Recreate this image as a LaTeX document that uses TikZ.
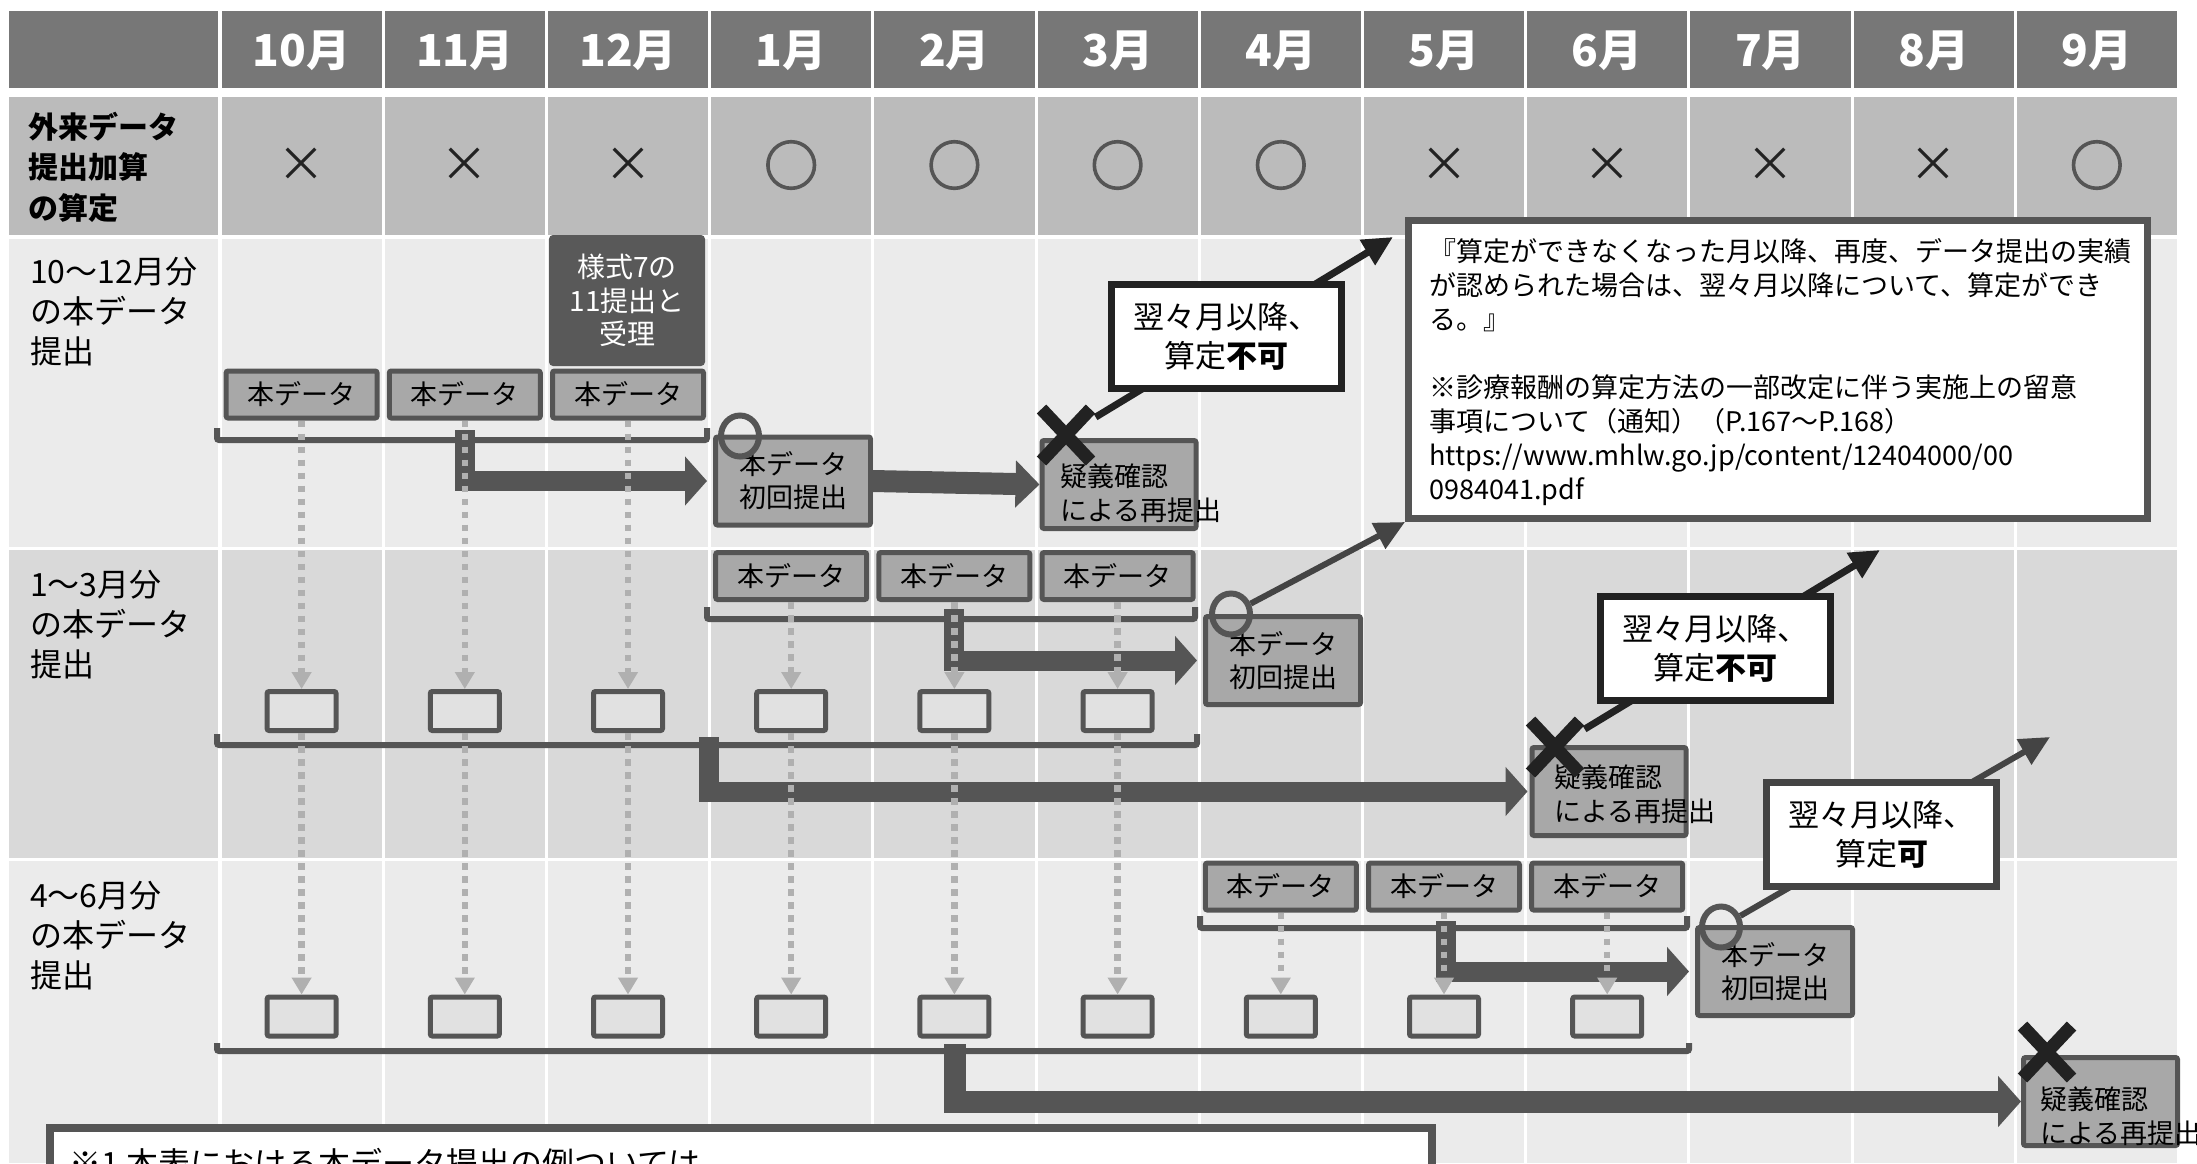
\documentclass[tikz,border=0pt]{standalone}
\usepackage{fontspec}
\setmainfont{Noto Sans CJK JP}
\newfontfamily\marufont[FakeBold=3]{Noto Sans CJK JP}
\usetikzlibrary{arrows.meta,shapes.misc,shapes.geometric}
\newcommand{\myfs}[2]{\fontsize{#1}{#2}\selectfont}
\definecolor{hdrgray}{HTML}{777777}
\definecolor{rowmid}{HTML}{BBBBBB}
\definecolor{rowlight}{HTML}{EBEBEB}
\definecolor{rowdark}{HTML}{D9D9D9}
\definecolor{dkgray}{HTML}{555555}
\definecolor{boxgray}{HTML}{A8A8A8}
\definecolor{sqgray}{HTML}{E1E1E1}
\definecolor{dashgray}{HTML}{B0B0B0}
\definecolor{nearblack}{HTML}{222222}
\definecolor{formgray}{HTML}{595959}
\definecolor{leadgray}{HTML}{444444}
\tikzset{
  databox/.style={draw=dkgray, line width=5pt, fill=boxgray, rounded corners=2pt,
    minimum width=151pt, minimum height=47pt, inner sep=0pt, font=\myfs{27}{30}},
  firstbox/.style={draw=dkgray, line width=5pt, fill=boxgray, rounded corners=2pt,
    minimum width=155pt, minimum height=88pt, inner sep=0pt, align=center, font=\myfs{27}{33}},
  querybox/.style={draw=dkgray, line width=5pt, fill=boxgray, rounded corners=2pt,
    minimum width=154pt, minimum height=88pt, inner sep=0pt},
  querytext/.style={anchor=west, align=left, inner sep=0pt, font=\myfs{27}{34}},
  sqbox/.style={draw=dkgray, line width=5pt, fill=sqgray, rounded corners=2pt,
    minimum width=69pt, minimum height=39pt, inner sep=0pt},
  callout/.style={draw=nearblack, line width=7pt, fill=white, minimum width=230pt,
    minimum height=104pt, align=center, inner sep=0pt, font=\myfs{31}{39}},
  bracketline/.style={draw=dkgray, line width=6pt, rounded corners=2pt},
  fatarrow/.style={draw=dkgray, line width=20pt, -{Triangle[length=22pt,width=48pt]}},
  dashlink/.style={draw=dashgray, line width=6.5pt, dash pattern=on 6.5pt off 6.5pt,
    -{Triangle[length=17pt,width=19pt]}},
  okring/.style={draw=dkgray, line width=6pt, ellipse, minimum width=38pt,
    minimum height=41pt, inner sep=0pt},
  ngcross/.style={cross out, draw=nearblack, line width=13pt, minimum width=36pt,
    minimum height=39pt, inner sep=0pt},
  leader/.style={draw=nearblack, line width=7pt, -{Triangle[length=30pt,width=28pt]}},
  rowlabel/.style={anchor=west, align=left, inner sep=0pt, font=\myfs{32}{40}},
  monthtext/.style={text=white, inner sep=0pt, font=\bfseries\myfs{44}{44}},
  batsu/.style={text=nearblack, inner sep=0pt, font=\myfs{48}{48}},
  maru/.style={text=dkgray, inner sep=0pt, font=\marufont\myfs{54}{54}},
}
\begin{document}
\begin{tikzpicture}[x=1pt,y=-1pt]
\useasboundingbox (0,0) rectangle (2197,1163);
\clip (0,0) rectangle (2197,1163);
\fill[white] (0,0) rectangle (2197,1163);
% ---- table cells
\fill[hdrgray] (8.5,11) rectangle (218,88);
\fill[rowmid] (8.5,97) rectangle (218,235.3);
\fill[rowlight] (8.5,238.7) rectangle (218,547.3);
\fill[rowdark] (8.5,550.3) rectangle (218,857.7);
\fill[rowlight] (8.5,860.7) rectangle (218,1163);
\foreach \i in {0,...,11}{
  \pgfmathsetmacro\xl{221.5+163.2*\i}
  \pgfmathsetmacro\xr{218.5+163.2*(\i+1)}
  \fill[hdrgray] (\xl,11) rectangle (\xr,88);
  \fill[rowmid] (\xl,97) rectangle (\xr,235.3);
  \fill[rowlight] (\xl,238.7) rectangle (\xr,547.3);
  \fill[rowdark] (\xl,550.3) rectangle (\xr,857.7);
  \fill[rowlight] (\xl,860.7) rectangle (\xr,1163);
}
\foreach \m [count=\k from 0] in {10月,11月,12月,1月,2月,3月,4月,5月,6月,7月,8月,9月}
  \node[monthtext] (mon\k) at ({301.6+163.2*\k},51) {\m};
\foreach \k in {0,1,2,7,8,9,10}
  \node[batsu] (mk\k) at ({301.6+163.2*\k},165) {×};
\foreach \k in {3,4,5,6,11}
  \node[maru] (mk\k) at ({301.6+163.2*\k},165) {○};
% ---- row labels
\node[rowlabel, font=\bfseries\myfs{30}{40.5}] (lab0) at (28,167) {外来データ\\提出加算\\の算定};
\node[rowlabel] (lab1) at (30,312) {10～12月分\\の本データ\\提出};
\node[rowlabel] (lab2) at (30,625) {1～3月分\\の本データ\\提出};
\node[rowlabel] (lab3) at (30,936) {4～6月分\\の本データ\\提出};
% ---- brackets
\draw[bracketline] (217,428) -- (217,440) -- (707,440) -- (707,428);
\draw[bracketline] (707,607) -- (707,619) -- (1195,619) -- (1195,607);
\draw[bracketline] (217,734) -- (217,745) -- (1197,745) -- (1197,734);
\draw[bracketline] (1200,916) -- (1200,928) -- (1687,928) -- (1687,916);
\draw[bracketline] (217,1043) -- (217,1051) -- (1689,1051) -- (1689,1043);
% ---- boxes
\node[fill=formgray, rounded corners=4pt, minimum width=156pt, minimum height=131pt,
  inner sep=0pt, text=white, align=center, font=\myfs{28}{33.5}] (form) at (627,300.5)
  {様式7の\\11提出と\\受理};
\foreach \i in {0,1,2} \node[databox] (d\i) at ({301.6+163.2*\i},394.5) {本データ};
\foreach \i in {3,4,5} \node[databox] (d\i) at ({301.6+163.2*\i},576) {本データ};
\foreach \i in {6,7,8} \node[databox] (d\i) at ({301.6+163.2*\i},886.5) {本データ};
\foreach \i in {0,...,5} \node[sqbox] (s\i) at ({301.6+163.2*\i},711) {};
\foreach \i in {0,...,8} \node[sqbox] (r\i) at ({301.6+163.2*\i},1016.5) {};
\node[firstbox] (i3) at (793,481) {本データ\\初回提出};
\node[firstbox] (i4) at (1283,660.5) {本データ\\初回提出};
\node[firstbox] (i5) at (1775,971.5) {本データ\\初回提出};
\node[querybox] (g3) at (1119,484.5) {};
\node[querybox] (g4) at (1609,791.5) {};
\node[querybox] (g5) at (2100.5,1101.5) {};
\node[querytext] (g3t) at (1060,493.5) {疑義確認\\による再提出};
\node[querytext] (g4t) at (1554,794.5) {疑義確認\\による再提出};
\node[querytext] (g5t) at (2040,1116.5) {疑義確認\\による再提出};
% ---- fat arrows
\coordinate (k3) at (464.8,430);
\coordinate (k4a) at (954.4,609);
\coordinate (k4b) at (709,737);
\coordinate (k5a) at (1446,921);
\coordinate (k5b) at (955,1044);
\draw[fatarrow, shorten >=6pt] (k3) |- (i3.west);
\draw[fatarrow, line width=22pt, -{Triangle[length=24pt,width=46pt]}] (i3.east) -- (g3.west);
\draw[fatarrow, shorten >=6pt] (k4a) |- (i4.west);
\draw[fatarrow, shorten >=2pt] (k4b) |- (g4.west);
\draw[fatarrow, shorten >=6pt] (k5a) |- (i5.west);
\draw[fatarrow, line width=22pt, -{Triangle[length=23pt,width=50pt]}] (k5b) |- (g5.west);
% ---- dashed links
\foreach \i in {0,...,5}{
  \draw[dashlink] (d\i.south) -- (s\i.north);
  \draw[dashlink] (s\i.south) -- (r\i.north);
}
\foreach \i in {6,7,8} \draw[dashlink] (d\i.south) -- (r\i.north);
% ---- note box
\node[draw=dkgray, line width=7pt, fill=white, minimum width=739pt, minimum height=298pt,
  inner sep=0pt] (nb) at (1778,369.5) {};
\node[anchor=north west, align=left, inner sep=0pt, font=\myfs{27}{34.1}] (nbt) at (1429,238)
  {『算定ができなくなった月以降、再度、データ提出の実績\\が認められた場合は、翌々月以降について、算定ができ\\る。』\\\mbox{}\\※診療報酬の算定方法の一部改定に伴う実施上の留意\\事項について（通知）（P.167～P.168）\\https://www.mhlw.go.jp/content/12404000/00\\0984041.pdf};
% ---- marks
\node[okring] (e3) at (740,436) {};
\node[okring] (e4) at (1231,614) {};
\node[okring] (e5) at (1721,927) {};
\node[ngcross] (x3) at (1066,435) {};
\node[ngcross] (x4) at (1555,747) {};
\node[ngcross] (x5) at (2047,1052) {};
% ---- leaders
\coordinate (t3) at (1393,237);
\coordinate (t4) at (1880,550);
\coordinate (t5) at (2050,737);
\draw[leader, shorten <=6pt] (x3) -- (t3);
\draw[leader, shorten <=6pt] (x4) -- (t4);
\draw[leader, draw=leadgray, line width=6pt] (e4) -- (nb.south west);
\draw[leader, draw=leadgray, line width=6pt] (e5) -- (t5);
% ---- callouts
\node[callout] (c3) at (1226.5,336.5) {翌々月以降、\\算定\textbf{不可}};
\node[callout] (c4) at (1715.5,648.5) {翌々月以降、\\算定\textbf{不可}};
\node[callout, draw=leadgray] (c5) at (1881.5,834.5) {翌々月以降、\\算定\textbf{可}};
% ---- footnote
\node[draw=dkgray, line width=8pt, fill=white, minimum width=1382pt, minimum height=140pt,
  inner sep=0pt, anchor=north west] (fbox) at (46,1124) {};
\node[anchor=base west, inner sep=0pt, font=\myfs{32}{36}] (foot) at (69,1175)
  {※1 本表における本データ提出の例ついては};
\end{tikzpicture}
\end{document}
